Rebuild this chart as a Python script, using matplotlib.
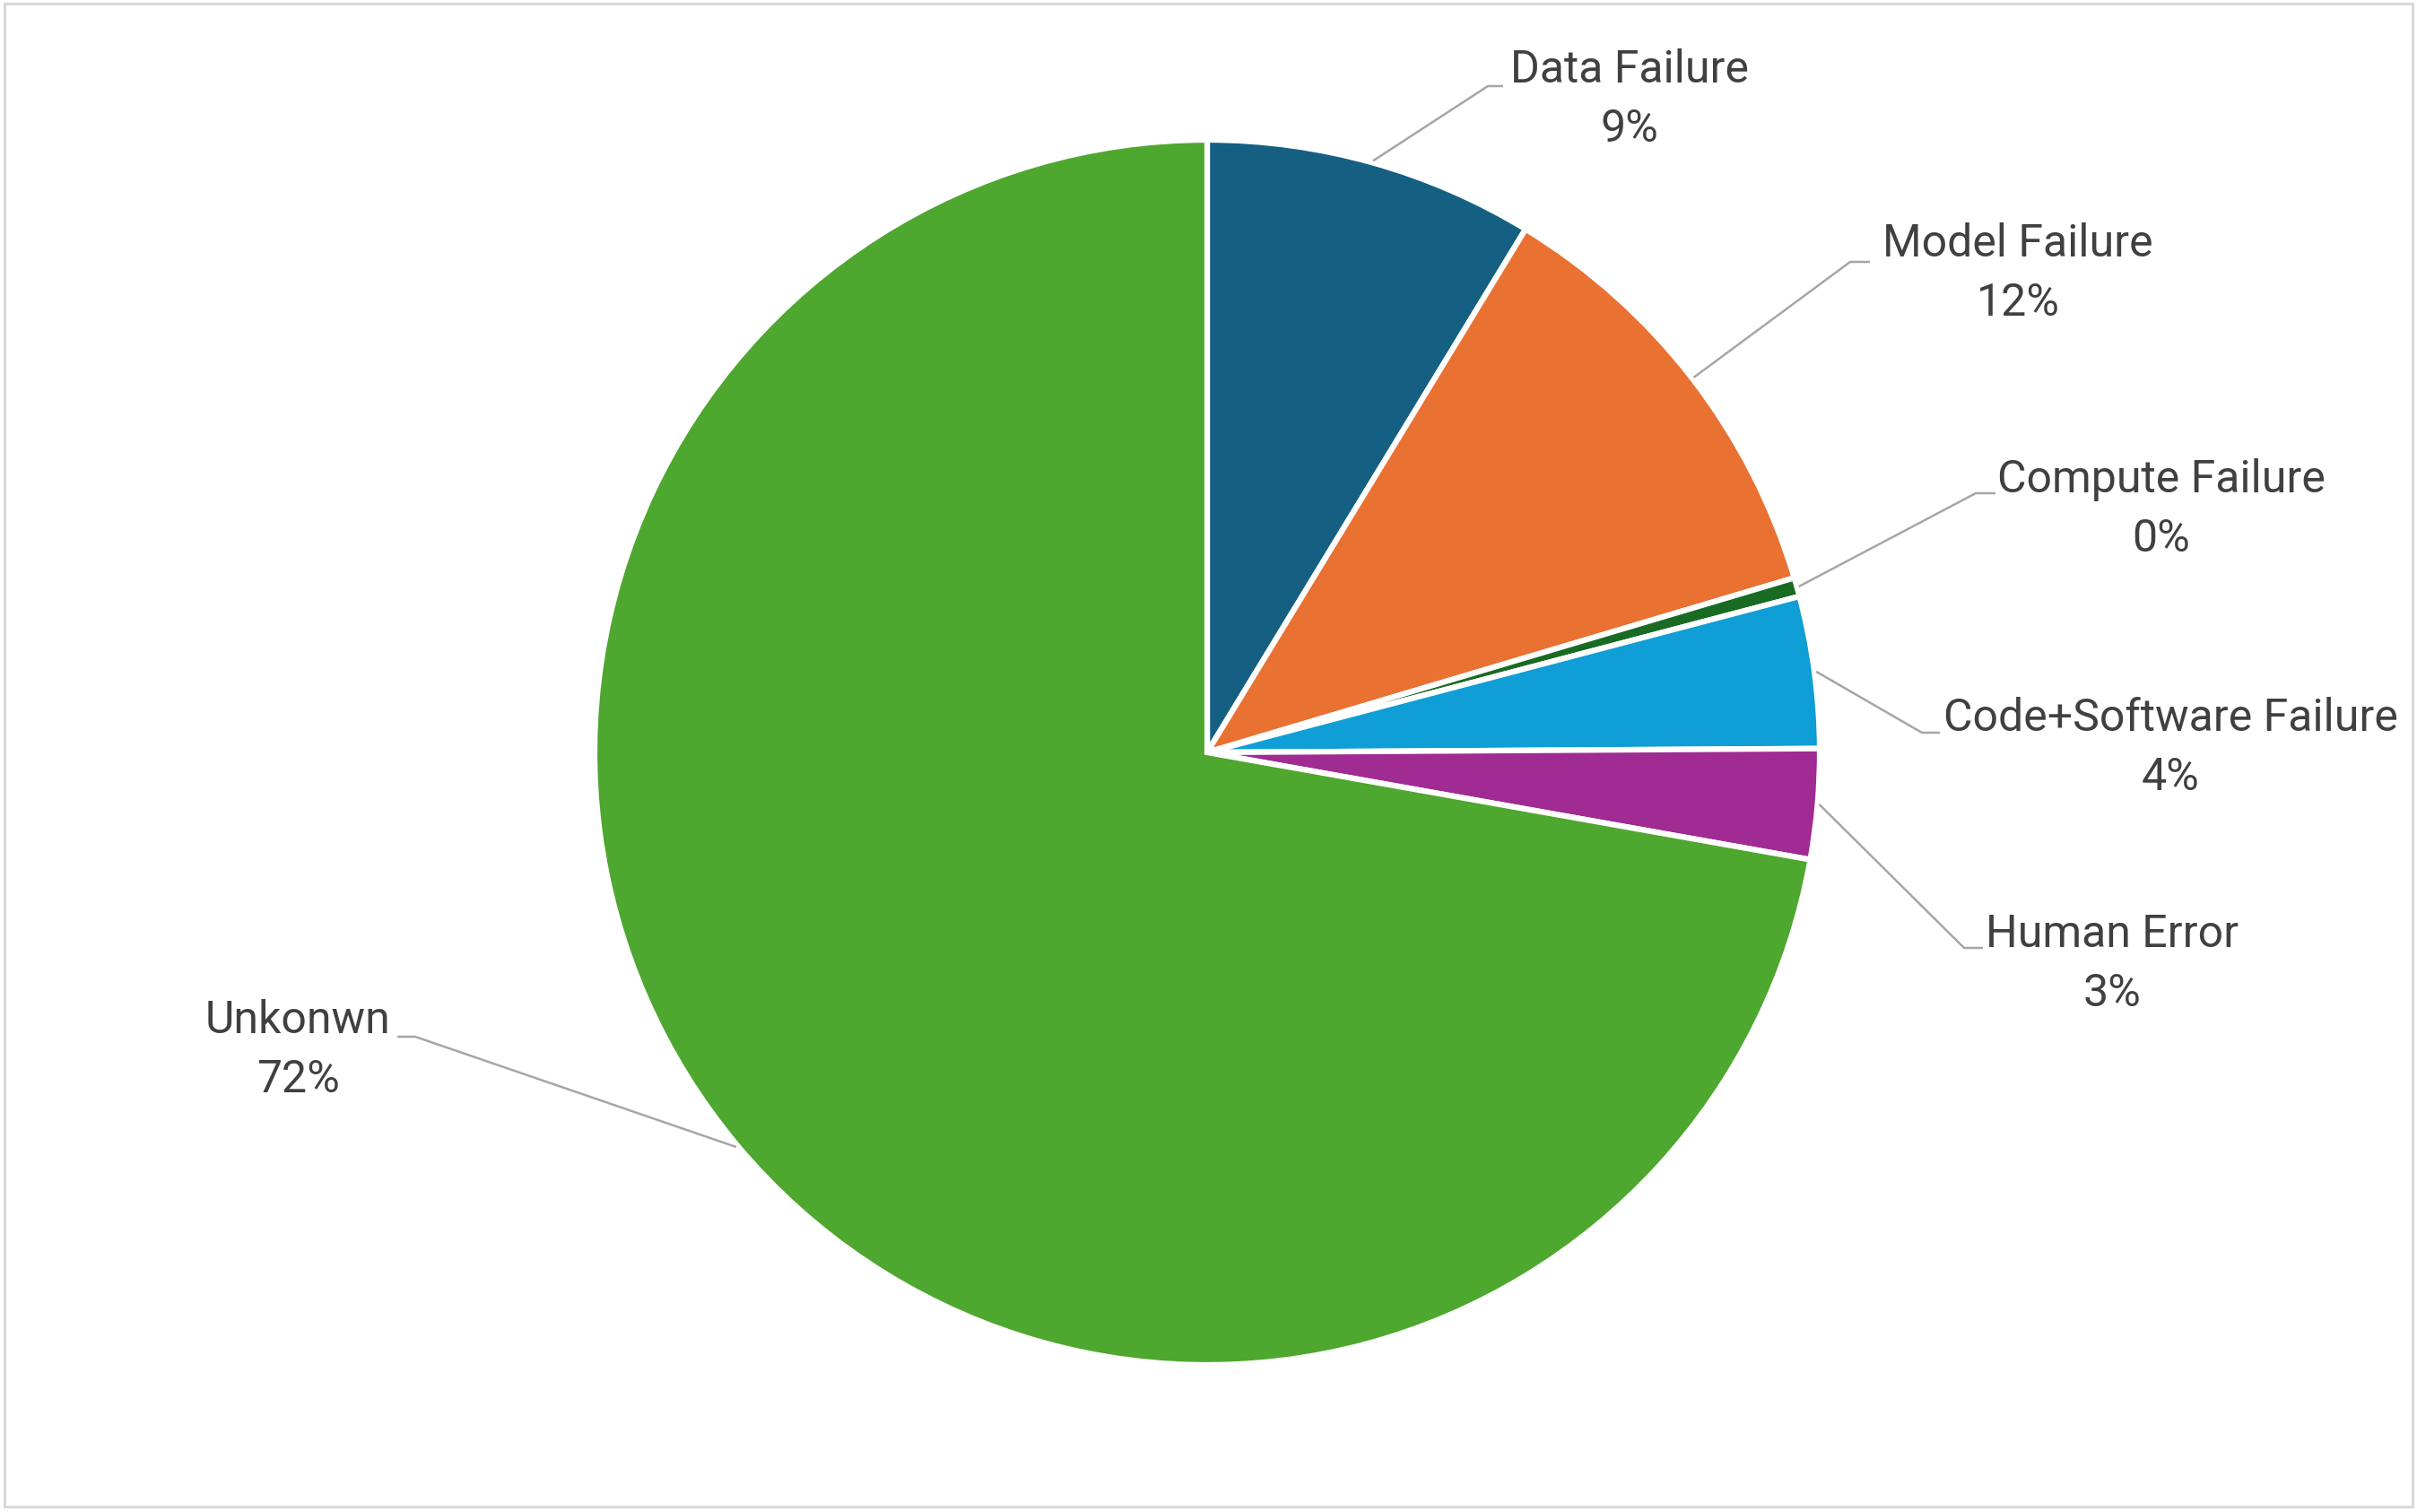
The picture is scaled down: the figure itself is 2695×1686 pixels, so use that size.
import matplotlib
matplotlib.use("Agg")
import matplotlib.pyplot as plt
from matplotlib.patches import Rectangle
import numpy as np

# ── Data ──────────────────────────────────────────────────────────────────────
categories = ["Data Failure", "Model Failure", "Compute Failure",
              "Code+Software Failure", "Human Error", "Unkonwn"]
shares = [8.7, 11.7, 0.5, 4.0, 2.9, 72.2]
pct_labels = ["9%", "12%", "0%", "4%", "3%", "72%"]
colors = ["#156082", "#E97132", "#196B24", "#0F9ED5", "#A02B93", "#4EA72E"]

# ── Layout (figure pixels, measured from top-left) ───────────────────────────
W, H = 2695, 1686
CX, CY, R = 1346, 839, 683
# (elbow, end of leader, text centre) per label
label_layout = [
    ((1659, 96),   (1676, 96),   (1817, 111)),
    ((2063, 292),  (2085, 292),  (2250, 305)),
    ((2203, 550),  (2225, 550),  (2410, 568)),
    ((2143, 817),  (2163, 817),  (2420, 834)),
    ((2190, 1057), (2211, 1057), (2355, 1075)),
    ((463, 1156),  (443, 1156),  (332, 1171)),
]

def px(p):
    return ((p[0] - CX) / R, (CY - p[1]) / R)

plt.rcParams['font.family'] = ['Roboto', 'DejaVu Sans']

fig = plt.figure(figsize=(W / 100, H / 100), dpi=100)
fig.patch.set_facecolor("white")
ax = fig.add_axes([0, 0, 1, 1])

wedges, _ = ax.pie(shares, colors=colors, startangle=90, counterclock=False,
                   radius=1.0,
                   wedgeprops=dict(edgecolor="white", linewidth=4.5))

ax.set_xlim(-CX / R, (W - CX) / R)
ax.set_ylim(-(H - CY) / R, CY / R)
ax.axis('off')

for w, name, pct, (elbow, end, tc) in zip(wedges, categories, pct_labels, label_layout):
    mid = np.deg2rad((w.theta1 + w.theta2) / 2)
    start = (np.cos(mid) * 1.003, np.sin(mid) * 1.003)
    ex, ey = px(elbow)
    nx, ny = px(end)
    ax.plot([start[0], ex, nx], [start[1], ey, ny], color="#A6A6A6",
            linewidth=1.8, solid_capstyle='butt', zorder=3)
    tx, ty = px(tc)
    ax.text(tx, ty, f"{name}\n{pct}", ha='center', va='center',
            fontsize=36, color="#404040", linespacing=1.47, zorder=4)

# ── Chart border ─────────────────────────────────────────────────────────────
fig.patches.append(Rectangle((5 / W, 6 / H), (W - 10) / W, (H - 10) / H,
                             transform=fig.transFigure, fill=False,
                             edgecolor="#D9D9D9", linewidth=2.2))

fig.savefig("out.png", dpi=100, facecolor="white")
